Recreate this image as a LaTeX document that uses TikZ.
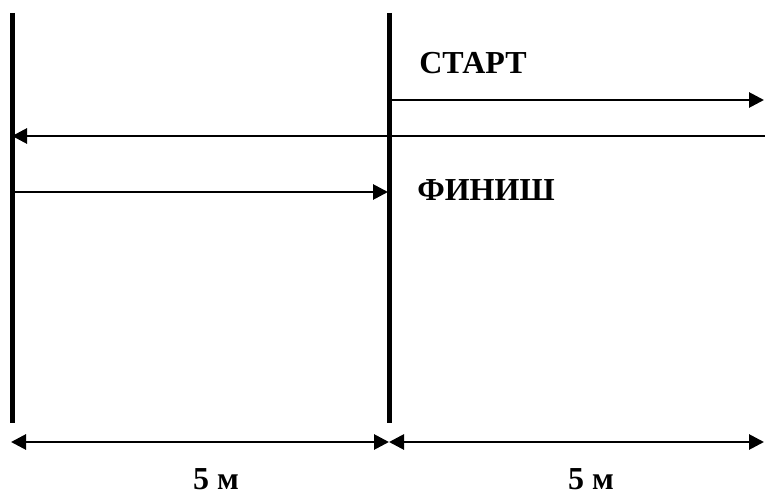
\documentclass[tikz,border=0pt]{standalone}
\usepackage{fontspec}
\setmainfont{Liberation Serif}
\usetikzlibrary{arrows.meta}
\tikzset{
  lane/.style={line width=5pt},
  run/.style={line width=2.8pt},
  lbl/.style={font=\bfseries\fontsize{32}{36}\selectfont, inner sep=0.5pt}
}
\begin{document}
\begin{tikzpicture}[x=1pt,y=-1pt,>={Triangle[length=15pt,width=15pt]}]
	\useasboundingbox (0,0) rectangle (765,497);
	% lines
	\coordinate (A1) at (12,13);
	\coordinate (A2) at (12,423);
	\coordinate (B1) at (389,13);
	\coordinate (B2) at (389,423);
	\draw[lane] (A1)--(A2);
	\draw[lane] (B1)--(B2);
	% runs
	\coordinate (S1) at (389,100);
	\coordinate (S2) at (764,100);
	\coordinate (R1) at (765,136);
	\coordinate (R2) at (12,136);
	\coordinate (F1) at (12,192);
	\coordinate (F2) at (388,192);
	\draw[run,->] (S1)--(S2);
	\draw[run,->] (R1)--(R2);
	\draw[run,->] (F1)--(F2);
	\node[lbl] (start) at (473,63) {СТАРТ};
	\node[lbl] (finish) at (486,190) {ФИНИШ};
	% distances
	\coordinate (D1) at (11,442);
	\coordinate (D2) at (389,442);
	\coordinate (D3) at (764,442);
	\draw[run,<->] (D1)--(D2);
	\draw[run,<->] (D2)--(D3);
	\node[lbl] (d1) at (216,479) {5 м};
	\node[lbl] (d2) at (591,479) {5 м};
\end{tikzpicture}
\end{document}
